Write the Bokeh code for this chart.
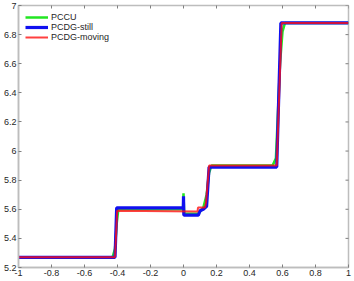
import math
from bokeh.plotting import figure
from bokeh.models import FixedTicker, Range1d
from bokeh.embed import file_html
from bokeh.resources import INLINE

# ---- data ----
pccu_x = [-1, -0.43, -0.415, -0.405, -0.395, -0.003, 0.0, 0.004, 0.09, 0.12, 0.14, 0.155, 0.17,
          0.54, 0.56, 0.57, 0.585, 0.6, 0.615, 1]
pccu_y = [5.27, 5.27, 5.33, 5.5, 5.6, 5.6, 5.71, 5.57, 5.57, 5.61, 5.7, 5.85, 5.9,
          5.9, 5.95, 6.2, 6.6, 6.82, 6.88, 6.88]

still_x = [-1, -0.415, -0.405, -0.001, 0.0, 0.002, 0.09, 0.10, 0.12, 0.14, 0.155, 0.565, 0.59, 1]
still_y = [5.27, 5.27, 5.61, 5.61, 5.69, 5.56, 5.56, 5.59, 5.60, 5.62, 5.89, 5.89, 6.88, 6.88]

moving_x = [-1, -0.415, -0.402, 0.085, 0.088, 0.13, 0.137, 0.155, 0.565, 0.595, 1]
moving_y = [5.27, 5.27, 5.59, 5.585, 5.612, 5.612, 5.65, 5.9, 5.9, 6.88, 6.88]

x_ticks = [-1, -0.8, -0.6, -0.4, -0.2, 0, 0.2, 0.4, 0.6, 0.8, 1]
x_labels = ["-1", "-0.8", "-0.6", "-0.4", "-0.2", "0", "0.2", "0.4", "0.6", "0.8", "1"]
y_ticks = [5.2, 5.4, 5.6, 5.8, 6, 6.2, 6.4, 6.6, 6.8, 7]
y_labels = ["5.2", "5.4", "5.6", "5.8", "6", "6.2", "6.4", "6.6", "6.8", "7"]

X_MIN, X_MAX = -1, 1
Y_MIN, Y_MAX = 5.2, 7

FONT = "Liberation Sans"
AX_COL = "#bdbdbd"
TICK_COL = "#7f7f7f"

p = figure(width=354, height=281, output_backend="svg", toolbar_location=None,
           x_range=Range1d(X_MIN, X_MAX), y_range=Range1d(Y_MIN, Y_MAX),
           min_border_left=15, min_border_right=6, min_border_top=5, min_border_bottom=14)
p.xgrid.visible = False
p.ygrid.visible = False
p.outline_line_color = AX_COL
p.outline_line_width = 1.5
p.background_fill_color = "white"

p.line(pccu_x, pccu_y, color="#22e622", line_width=2.5, legend_label="PCCU")
p.line(still_x, still_y, color="#1010f0", line_width=3.2, legend_label="PCDG-still")
p.line(moving_x, moving_y, color="#ff1010", line_width=2, alpha=0.8, legend_label="PCDG-moving")

# inward ticks on the top and right edges of the box (clipped to the frame)
p.scatter(x=x_ticks, y=[Y_MAX] * len(x_ticks), marker="dash", angle=math.pi / 2,
          size=6, line_color=TICK_COL, line_width=1)
p.scatter(x=[X_MAX] * len(y_ticks), y=y_ticks, marker="dash",
          size=6, line_color=TICK_COL, line_width=1)

def style(ax, ticks, labels):
    ax.ticker = FixedTicker(ticks=ticks)
    ax.major_label_overrides = {t: l for t, l in zip(ticks, labels)}
    ax.axis_line_color = AX_COL
    ax.axis_line_width = 1.5
    ax.major_tick_line_color = TICK_COL
    ax.major_tick_in = 3
    ax.major_tick_out = 0
    ax.minor_tick_line_color = None
    ax.major_label_text_font = FONT
    ax.major_label_text_color = "#262626"
    ax.major_label_text_font_size = "9px"
    ax.major_label_standoff = 2

style(p.xaxis[0], x_ticks, x_labels)
style(p.yaxis[0], y_ticks, y_labels)

lg = p.legend[0]
lg.location = "top_left"
lg.border_line_alpha = 0
lg.background_fill_alpha = 0
lg.label_text_font = FONT
lg.label_text_font_size = "9px"
lg.label_text_color = "#262626"
lg.glyph_width = 23
lg.glyph_height = 10
lg.label_height = 10
lg.label_standoff = 3
lg.spacing = 0
lg.padding = 2
lg.margin = 5

open("out.html", "w").write(file_html(p, INLINE))
